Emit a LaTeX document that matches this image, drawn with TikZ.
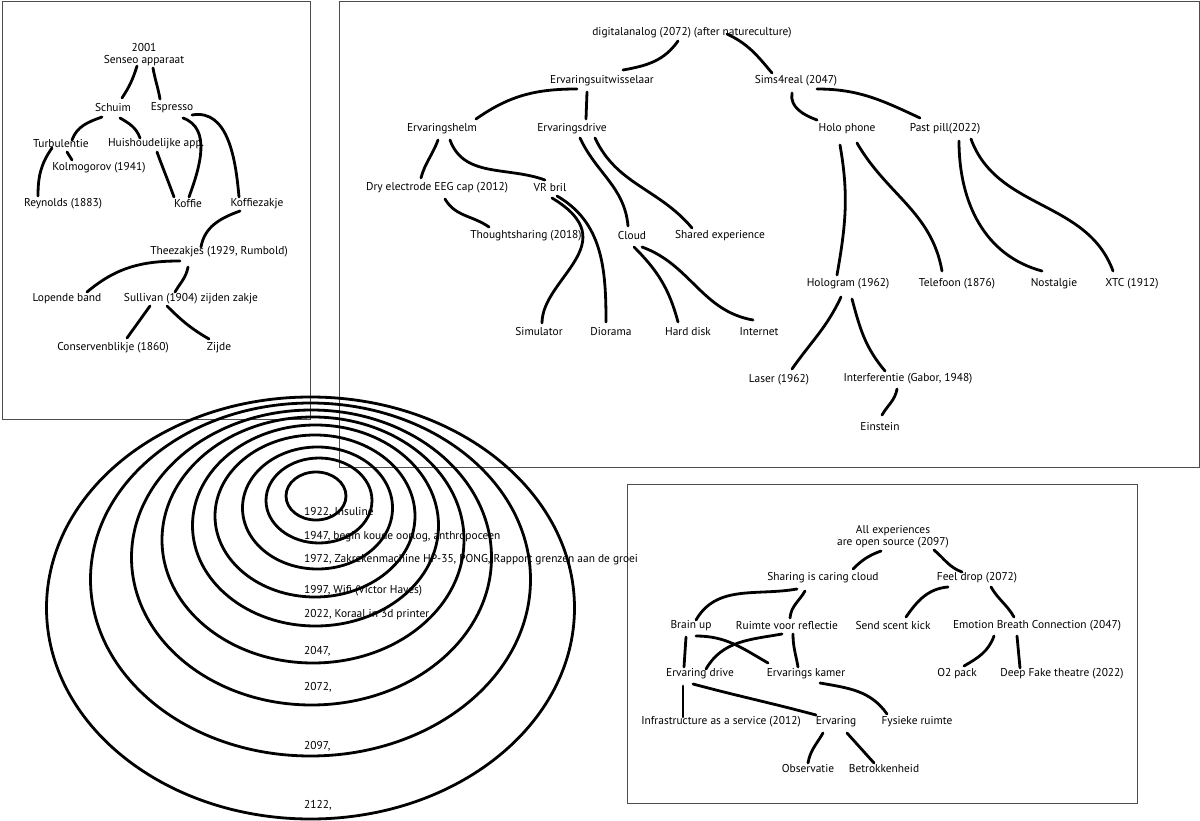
\documentclass[tikz,border=0pt]{standalone}
\usepackage{fontspec}
\setmainfont{PT Sans}
\usepackage{tikz}
\usetikzlibrary{calc}

\begin{document}
\begin{tikzpicture}[x=1pt,y=1pt,
  every node/.style={font=\fontsize{11.4}{12}\selectfont, inner sep=1pt},
  link/.style={line width=2.8pt, line cap=round},
  ring/.style={line width=2.8pt},
  panel/.style={draw=black!70, line width=0.9pt}]
\useasboundingbox (0,0) rectangle (1200,-821);
\draw[panel] (2,-1) rectangle (310,-419);
\draw[panel] (339,-1) rectangle (1199,-467);
\draw[panel] (627,-484) rectangle (1137,-803);

% koffie
\node[align=center] (sen) at (144,-55) {2001\\Senseo apparaat};
\node (sch) at (113,-108) {Schuim};
\node (esp) at (172,-108) {Espresso};
\node (tur) at (61,-144) {Turbulentie};
\node (hui) at (156,-144) {Huishoudelijke app.};
\node (kol) at (99,-168) {Kolmogorov (1941)};
\node (rey) at (63,-204) {Reynolds (1883)};
\node (kof) at (188,-204) {Koffie};
\node (kza) at (257,-204) {Koffiezakje};
\node (thee) at (219,-252) {Theezakjes (1929, Rumbold)};
\node (lop) at (67,-299) {Lopende band};
\node (sul) at (191,-299) {Sullivan (1904) zijden zakje};
\node (con) at (113,-348) {Conservenblikje (1860)};
\node (zij) at (219,-348) {Zijde};
\draw[link] ($(sen)+(-7,-11)$) to[bend left=8] ($(sch)+(9,10)$);
\draw[link] ($(sen)+(9,-13)$) to[out=-80,in=100] ($(esp)+(-12,9)$);
\draw[link] ($(sch)+(-11,-9)$) to[out=200,in=70] ($(tur)+(11,4)$);
\draw[link] ($(sch)+(7,-10)$) to[out=-30,in=110] ($(hui)+(-16,6)$);
\draw[link] ($(tur)+(6,-8)$) -- ($(kol)+(-27,8)$);
\draw[link] ($(tur)+(-9,-4)$) to[out=235,in=90] ($(rey)+(-25,8)$);
\draw[link] ($(hui)+(1,-8)$) to[out=-70,in=110] ($(kof)+(-14,7)$);
\draw[link] ($(esp)+(11,-10)$) to[out=-20,in=70] ($(kof)+(1,7)$);
\draw[link] ($(esp)+(20,-7)$) to[out=10,in=95] ($(kza)+(-18,7)$);
\draw[link] ($(kza)+(-17,-7)$) to[out=200,in=80] ($(thee)+(-18,5)$);
\draw[link] ($(thee)+(-39,-9)$) to[out=180,in=40] ($(lop)+(20,7)$);
\draw[link] ($(thee)+(-31,-15)$) to[out=-100,in=60] ($(sul)+(-16,7)$);
\draw[link] ($(sul)+(-41,-7)$) -- ($(con)+(14,10)$);
\draw[link] ($(sul)+(-24,-7)$) to[out=-45,in=150] ($(zij)+(-10,9)$);

% digitalanalog
\node (dig) at (692,-33) {digitalanalog (2072) (after natureculture)};
\node (erv) at (602,-81) {Ervaringsuitwisselaar};
\node (sims) at (796,-81) {Sims4real (2047)};
\node (helm) at (442,-129) {Ervaringshelm};
\node (drive) at (572,-129) {Ervaringsdrive};
\node (holo) at (847,-129) {Holo phone};
\node (past) at (945,-129) {Past pill(2022)};
\node (dry) at (437,-188) {Dry electrode EEG cap (2012)};
\node (vr) at (550,-188) {VR bril};
\node (thou) at (526,-236) {Thoughtsharing (2018)};
\node (cloud) at (632,-236) {Cloud};
\node (shared) at (720,-236) {Shared experience};
\node (hgram) at (848,-284) {Hologram (1962)};
\node (tel) at (957,-284) {Telefoon (1876)};
\node (nos) at (1054,-284) {Nostalgie};
\node (xtc) at (1132,-284) {XTC (1912)};
\node (sim) at (539,-332) {Simulator};
\node (dio) at (611,-332) {Diorama};
\node (hard) at (688,-332) {Hard disk};
\node (inet) at (759,-332) {Internet};
\node (laser) at (779,-380) {Laser (1962)};
\node (inter) at (908,-379) {Interferentie (Gabor, 1948)};
\node (ein) at (880,-427) {Einstein};
\draw[link] ($(dig)+(-14,-8)$) to[out=235,in=10] ($(erv)+(21,11)$);
\draw[link] ($(dig)+(35,-1)$) to[out=-25,in=130] ($(sims)+(-24,8)$);
\draw[link] ($(erv)+(-25,-8)$) to[out=180,in=35] ($(helm)+(34,10)$);
\draw[link] ($(erv)+(-15,-11)$) -- ($(drive)+(14,10)$);
\draw[link] ($(sims)+(-4,-12)$) to[out=-100,in=160] ($(holo)+(-30,9)$);
\draw[link] ($(sims)+(21,-8)$) to[out=0,in=155] ($(past)+(-25,11)$);
\draw[link] ($(helm)+(-4,-11)$) to[out=-110,in=75] ($(dry)+(-16,10)$);
\draw[link] ($(helm)+(8,-11)$) to[out=-70,in=160] ($(vr)+(-5,8)$);
\draw[link] ($(dry)+(8,-11)$) to[out=-60,in=145] ($(thou)+(-37,9)$);
\draw[link] ($(vr)+(2,-10)$) .. controls +(75,-45) and +(0,45) .. ($(sim)+(3,9)$);
\draw[link] ($(vr)+(7,-8)$) to[out=-30,in=90] ($(dio)+(-5,10)$);
\draw[link] ($(drive)+(8,-9)$) to[out=-65,in=95] ($(cloud)+(-4,10)$);
\draw[link] ($(drive)+(23,-9)$) to[out=-65,in=130] ($(shared)+(-28,8)$);
\draw[link] ($(cloud)+(2,-11)$) to[out=-45,in=105] ($(hard)+(-10,10)$);
\draw[link] ($(cloud)+(10,-11)$) to[out=-20,in=170] ($(inet)+(-6,12)$);
\draw[link] ($(holo)+(-7,-16)$) to[out=-80,in=80] ($(hgram)+(-11,9)$);
\draw[link] ($(holo)+(10,-14)$) to[out=-60,in=100] ($(tel)+(-15,13)$);
\draw[link] ($(past)+(14,-12)$) to[out=-90,in=165] ($(nos)+(-12,13)$);
\draw[link] ($(past)+(26,-10)$) to[out=-70,in=110] ($(xtc)+(-19,13)$);
\draw[link] ($(hgram)+(-7,-13)$) to[out=-115,in=55] ($(laser)+(13,11)$);
\draw[link] ($(hgram)+(4,-15)$) to[out=-75,in=130] ($(inter)+(-23,8)$);
\draw[link] ($(inter)+(-11,-10)$) to[out=-100,in=60] ($(ein)+(2,12)$);

% open source
\node[align=center] (all) at (893,-537) {All experiences\\are open source (2097)};
\node (shar) at (823,-578) {Sharing is caring cloud};
\node (feel) at (977,-578) {Feel drop (2072)};
\node (brain) at (691,-626) {Brain up};
\node (ruim) at (787,-626) {Ruimte voor reflectie};
\node (send) at (893,-626) {Send scent kick};
\node (emo) at (1037,-626) {Emotion Breath Connection (2047)};
\node (edr) at (700,-674) {Ervaring drive};
\node (kam) at (806,-674) {Ervarings kamer};
\node (o2) at (957,-674) {O2 pack};
\node (deep) at (1062,-674) {Deep Fake theatre (2022)};
\node (infra) at (721,-722) {Infrastructure as a service (2012)};
\node (erva) at (836,-722) {Ervaring};
\node (fys) at (917,-722) {Fysieke ruimte};
\node (obs) at (808,-769) {Observatie};
\node (betr) at (884,-769) {Betrokkenheid};
\draw[link] ($(all)+(-12,-14)$) to[out=200,in=45] ($(shar)+(30,9)$);
\draw[link] ($(all)+(41,-13)$) to[out=-40,in=160] ($(feel)+(-15,6)$);
\draw[link] ($(shar)+(-26,-11)$) to[out=190,in=60] ($(brain)+(5,6)$);
\draw[link] ($(shar)+(-18,-13)$) to[out=-120,in=85] ($(ruim)+(3,8)$);
\draw[link] ($(feel)+(-29,-9)$) to[out=185,in=55] ($(send)+(13,9)$);
\draw[link] ($(feel)+(14,-9)$) to[out=-60,in=120] ($(emo)+(-23,9)$);
\draw[link] ($(brain)+(-5,-11)$) -- ($(edr)+(-16,7)$);
\draw[link] ($(brain)+(5,-10)$) to[out=0,in=150] ($(kam)+(-38,11)$);
\draw[link] ($(ruim)+(-5,-8)$) to[out=190,in=60] ($(edr)+(6,5)$);
\draw[link] ($(ruim)+(6,-8)$) to[out=-90,in=100] ($(kam)+(-8,7)$);
\draw[link] ($(emo)+(-43,-10)$) to[out=-110,in=30] ($(o2)+(7,8)$);
\draw[link] ($(emo)+(-20,-10)$) -- ($(deep)+(-42,6)$);
\draw[link] ($(edr)+(-17,-12)$) -- ($(infra)+(-38,5)$);
\draw[link] ($(edr)+(-7,-10)$) to[out=-15,in=165] ($(erva)+(-20,7)$);
\draw[link] ($(kam)+(14,-9)$) to[out=-10,in=125] ($(fys)+(-30,8)$);
\draw[link] ($(erva)+(-13,-11)$) to[out=-120,in=80] ($(obs)+(0,6)$);
\draw[link] ($(erva)+(11,-11)$) -- ($(betr)+(-10,6)$);

% tijdlijn
\node[anchor=west] (t1) at (303,-512) {1922, Insuline};
\node[anchor=west] (t2) at (303,-537) {1947, begin koude oorlog, anthropoceen};
\node[anchor=west] (t3) at (303,-560) {1972, Zakrekenmachine HP-35, PONG, Rapport grenzen aan de groei};
\node[anchor=west] (t4) at (303,-591) {1997, Wifi (Victor Hayes)};
\node[anchor=west] (t5) at (303,-615) {2022, Koraal in 3d printer};
\node[anchor=west] (t6) at (303,-651) {2047,};
\node[anchor=west] (t7) at (303,-687) {2072,};
\node[anchor=west] (t8) at (303,-746) {2097,};
\node[anchor=west] (t9) at (303,-805) {2122,};
\foreach \cx/\cy/\rx/\ry in {316/496/30/24, 319/500.5/53/42.5, 317.5/508/75/61,
    315/516/100/81, 315.5/525.5/123/100.5, 313/540/151/123, 311.5/557.5/180/147.5,
    310.5/579.5/220/176.5, 310.5/608/264/211}{
  \draw[ring] (\cx,-\cy) ellipse [x radius=\rx, y radius=\ry];
}
\end{tikzpicture}
\end{document}
